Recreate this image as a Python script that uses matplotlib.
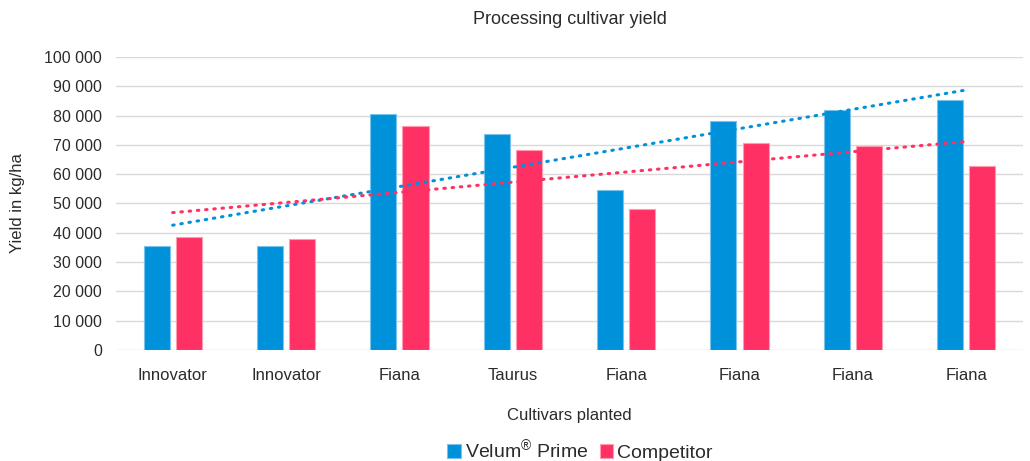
import numpy as np
import matplotlib
matplotlib.use("Agg")
import matplotlib.pyplot as plt
from matplotlib.ticker import FuncFormatter

# --- DATA ---
cultivars = ["Innovator", "Innovator", "Fiana", "Taurus", "Fiana", "Fiana", "Fiana", "Fiana"]
velum_prime = [35500, 35500, 80700, 73600, 54700, 78100, 81900, 85300]
competitor = [38400, 37900, 76500, 68200, 48100, 70600, 69700, 62700]

BLUE = "#0091DB"
RED = "#FF3164"
TEXT = "#2b2b2b"

plt.rcParams["font.family"] = ["Liberation Sans", "DejaVu Sans"]
plt.rcParams["mathtext.default"] = "regular"

fig = plt.figure(figsize=(10.30, 4.61), dpi=100)
ax = fig.add_axes([0.1126, 0.2408, 0.8806, 0.6356])

x = np.arange(len(cultivars))
w = 0.23
off = 0.142

ax.bar(x - off, velum_prime, w, color=BLUE, edgecolor="#7cc3ec", linewidth=0.8,
       label=r"Velum$^{\circledR}$ Prime", zorder=3)
ax.bar(x + off, competitor, w, color=RED, edgecolor="#ff9ab0", linewidth=0.8,
       label="Competitor", zorder=3)

# linear trendlines, like the spreadsheet ones
for vals, col in ((velum_prime, BLUE), (competitor, RED)):
    k, b = np.polyfit(x, vals, 1)
    ax.plot(x[[0, -1]], k * x[[0, -1]] + b, color=col, linewidth=2.2,
            linestyle=(0, (0.5, 2.2)), dash_capstyle="round", zorder=4)

ax.set_xlim(-0.5, len(cultivars) - 0.5)
ax.set_ylim(0, 100000)
ax.set_yticks(np.arange(0, 100001, 10000))
ax.yaxis.set_major_formatter(FuncFormatter(lambda v, p: f"{int(v):,}".replace(",", " ")))
ax.set_xticks(x)
ax.set_xticklabels(cultivars)

ax.grid(axis="y", color="#d9d9d9", linewidth=1, zorder=0)
for s in ax.spines.values():
    s.set_visible(False)
ax.tick_params(axis="both", length=0, labelsize=12, colors=TEXT)
ax.tick_params(axis="y", labelsize=11.5, pad=10)
ax.tick_params(axis="x", pad=13)

ax.set_title("Processing cultivar yield", fontsize=13, color=TEXT, pad=24)
ax.set_xlabel("Cultivars planted", fontsize=12, color=TEXT, labelpad=18)
ax.set_ylabel("Yield in kg/ha", fontsize=12, color=TEXT, labelpad=14)

fig.legend(loc="center", bbox_to_anchor=(0.563, 0.024), ncol=2, frameon=False,
           fontsize=14, handlelength=0.7, handleheight=0.7, handletextpad=0.2,
           columnspacing=0.6, labelcolor=TEXT)

fig.savefig("out.png", dpi=100)
